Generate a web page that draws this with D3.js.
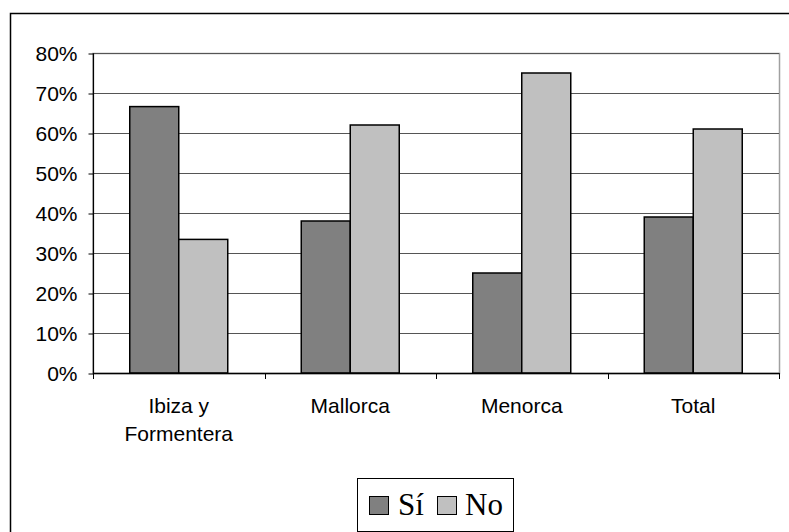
<!DOCTYPE html>
<html>
<head>
<meta charset="utf-8">
<script src="https://cdn.jsdelivr.net/npm/d3@7"></script>
<style>
  html, body { margin: 0; padding: 0; background: #fff; }
  svg { display: block; }
</style>
</head>
<body>
<svg id="chart" width="789" height="532"></svg>
<script>
const categories = ["Ibiza y\nFormentera", "Mallorca", "Menorca", "Total"];
const seriesNames = ["Sí", "No"];
const siValues = [0.666, 0.38, 0.25, 0.39];
const noValues = [0.334, 0.62, 0.75, 0.61];
const yTicks = [0, 0.1, 0.2, 0.3, 0.4, 0.5, 0.6, 0.7, 0.8];
const seriesColors = ["#808080", "#c0c0c0"];

const svg = d3.select("#chart");
const W = 789, H = 532;
const plot = { left: 93, right: 779, top: 53, bottom: 373 };

// outer chart border
svg.append("rect")
  .attr("x", 10.5).attr("y", 13.5)
  .attr("width", W).attr("height", H)
  .attr("fill", "#fff").attr("stroke", "#000").attr("stroke-width", 1.5);

const x = d3.scaleBand().domain(categories).range([plot.left, plot.right]).paddingInner(0).paddingOuter(0);
const xs = d3.scaleBand().domain(seriesNames).range([0, x.bandwidth()]).paddingInner(0).paddingOuter(0.75);
const y = d3.scaleLinear().domain([0, 0.8]).range([plot.bottom, plot.top]);

// plot area border (grey)
svg.append("rect")
  .attr("x", plot.left).attr("y", plot.top + 0.5)
  .attr("width", plot.right - plot.left + 0.5).attr("height", plot.bottom - plot.top)
  .attr("fill", "none").attr("stroke", "#a0a0a0").attr("stroke-width", 1.5);

// gridlines
svg.append("g").selectAll("line").data(yTicks.filter(d => d > 0)).join("line")
  .attr("x1", plot.left).attr("x2", plot.right)
  .attr("y1", d => Math.round(y(d)) + 0.5).attr("y2", d => Math.round(y(d)) + 0.5)
  .attr("stroke", "#555").attr("stroke-width", 1);

// bars
const data = categories.map((c, i) => ({ cat: c, vals: [siValues[i], noValues[i]] }));
const groups = svg.append("g").selectAll("g").data(data).join("g")
  .attr("transform", d => `translate(${x(d.cat)},0)`);
groups.selectAll("rect").data(d => d.vals.map((v, j) => ({ v, s: seriesNames[j], j }))).join("rect")
  .attr("x", d => xs(d.s))
  .attr("y", d => y(d.v))
  .attr("width", xs.bandwidth())
  .attr("height", d => y(0) - y(d.v))
  .attr("fill", d => seriesColors[d.j])
  .attr("stroke", "#000").attr("stroke-width", 1.5);

// y axis
const yAxis = d3.axisLeft(y).tickValues(yTicks).tickFormat(d3.format(".0%")).tickSize(5).tickPadding(11);
const gy = svg.append("g").attr("transform", `translate(${plot.left + 0.5},0.5)`).call(yAxis);
gy.select(".domain").attr("stroke", "#000").attr("stroke-width", 1.2).attr("d", `M0,${plot.top}V${plot.bottom}`);
gy.selectAll(".tick line").attr("stroke", "#000");
gy.selectAll(".tick text")
  .attr("font-family", "'Liberation Sans', Arial, sans-serif")
  .attr("font-size", 21).attr("fill", "#000");

// x axis
const xLine = svg.append("g");
xLine.append("line")
  .attr("x1", plot.left).attr("x2", plot.right + 0.5)
  .attr("y1", plot.bottom + 0.5).attr("y2", plot.bottom + 0.5)
  .attr("stroke", "#000").attr("stroke-width", 1.5);
const boundaries = categories.map(c => x(c)).concat([x(categories[categories.length - 1]) + x.bandwidth()]);
xLine.selectAll(".xt").data(boundaries).join("line").attr("class", "xt")
  .attr("x1", d => Math.round(d) + 0.5).attr("x2", d => Math.round(d) + 0.5)
  .attr("y1", plot.bottom).attr("y2", plot.bottom + 6)
  .attr("stroke", "#000").attr("stroke-width", 1);

const labels = svg.append("g").selectAll("text").data(categories).join("text")
  .attr("x", d => x(d) + x.bandwidth() / 2)
  .attr("y", 413)
  .attr("text-anchor", "middle")
  .attr("font-family", "'Liberation Sans', Arial, sans-serif")
  .attr("font-size", 21).attr("fill", "#000");
labels.selectAll("tspan").data(d => d.split("\n").map((t, i) => ({ t, i }))).join("tspan")
  .attr("x", function () { return d3.select(this.parentNode).attr("x"); })
  .attr("dy", d => d.i === 0 ? 0 : 28)
  .text(d => d.t);

// legend
const legend = svg.append("g");
legend.append("rect")
  .attr("x", 357.5).attr("y", 478.5).attr("width", 156).attr("height", 53)
  .attr("fill", "#fff").attr("stroke", "#000").attr("stroke-width", 1);
const legendItems = [
  { name: seriesNames[0], color: seriesColors[0], sx: 369, tx: 398 },
  { name: seriesNames[1], color: seriesColors[1], sx: 437, tx: 465 }
];
legend.selectAll(".ls").data(legendItems).join("rect").attr("class", "ls")
  .attr("x", d => d.sx + 0.5).attr("y", 496.5).attr("width", 19).attr("height", 18)
  .attr("fill", d => d.color).attr("stroke", "#000").attr("stroke-width", 1);
legend.selectAll(".lt").data(legendItems).join("text").attr("class", "lt")
  .attr("x", d => d.tx).attr("y", 515)
  .attr("font-family", "'Liberation Serif', 'Times New Roman', serif")
  .attr("font-size", 31).attr("fill", "#000")
  .text(d => d.name);
</script>
</body>
</html>
